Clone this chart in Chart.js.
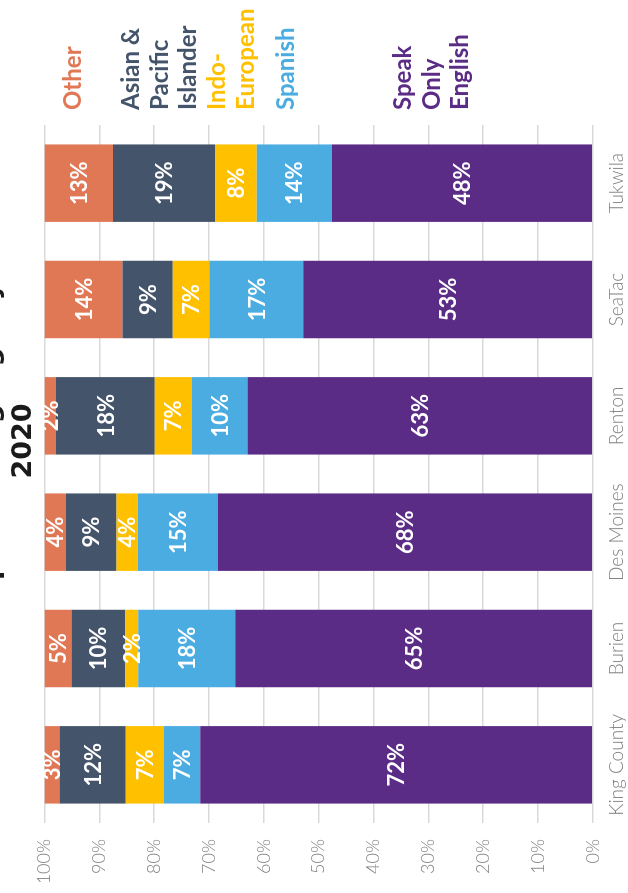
<!DOCTYPE html>
<html>
<head>
<meta charset="utf-8">
<script src="https://cdn.jsdelivr.net/npm/chart.js@4.4.1/dist/chart.umd.min.js"></script>
<style>
  html, body { margin: 0; padding: 0; background: #fff; overflow: hidden; }
  body { width: 628px; height: 893px; position: relative; }
  /* chart is drawn upright, then turned a quarter counter-clockwise */
  #wrap {
    position: absolute; left: 0; top: 0;
    width: 893px; height: 668px;
    transform-origin: 0 0;
    transform: translate(-40px, 893px) rotate(-90deg);
  }
</style>
</head>
<body>
<div id="wrap"><canvas id="chart" width="893" height="668"></canvas></div>
<script>
// --- data (percent of population) ---
const categories = ['King County', 'Burien', 'Des Moines', 'Renton', 'SeaTac', 'Tukwila'];
const englishOnly = [71.6, 65.2, 68.4, 63.0, 52.8, 47.6];
const spanish = [6.6, 17.7, 14.6, 10.1, 17.1, 13.7];
const indoEuropean = [7.0, 2.4, 3.9, 6.8, 6.7, 7.6];
const asianPacific = [12.1, 9.8, 9.2, 18.0, 9.2, 18.6];
const other = [2.7, 4.9, 3.9, 2.1, 14.2, 12.5];
const legendLines = [['Speak', 'Only', 'English'], ['Spanish'], ['Indo-', 'European'], ['Asian &', 'Pacific', 'Islander'], ['Other']];
const yTicks = [0, 10, 20, 30, 40, 50, 60, 70, 80, 90, 100];
const titleLines = ['Spoken Language by', '2020'];

const colors = ['#5B2C86', '#4AACE0', '#FFC000', '#44546A', '#E07856'];
const series = [englishOnly, spanish, indoEuropean, asianPacific, other];

// first-line baseline of each legend entry, canvas px
const legendBase = [451, 334, 265, 179, 120.5];
const legendX = 783;
const legendLineH = 28.5;

const barLabels = {
    id: 'barLabels',
    afterDatasetsDraw(chart) {
        const ctx = chart.ctx;
        ctx.save();
        ctx.fillStyle = '#fff';
        ctx.font = 'bold 22px Lato';
        ctx.textAlign = 'center';
        ctx.textBaseline = 'middle';
        chart.data.datasets.forEach((ds, i) => {
            chart.getDatasetMeta(i).data.forEach((bar, j) => {
                const v = ds.data[j];
                ctx.fillText(Math.round(v) + '%', bar.x, (bar.y + bar.base) / 2 + 1);
            });
        });
        ctx.restore();
    }
};

const sideLegend = {
    id: 'sideLegend',
    afterDraw(chart) {
        const ctx = chart.ctx;
        ctx.save();
        ctx.font = 'bold 24px Lato';
        ctx.textAlign = 'left';
        ctx.textBaseline = 'alphabetic';
        chart.data.datasets.forEach((ds, i) => {
            ctx.fillStyle = ds.backgroundColor;
            legendLines[i].forEach((line, k) => {
                ctx.fillText(line, legendX, legendBase[i] + k * legendLineH);
            });
        });
        ctx.restore();
    }
};

new Chart(document.getElementById('chart'), {
    type: 'bar',
    data: {
        labels: categories,
        datasets: series.map((d, i) => ({
            label: legendLines[i].join(' '),
            data: d,
            backgroundColor: colors[i],
            borderWidth: 0,
            barPercentage: 0.666,
            categoryPercentage: 1.0
        }))
    },
    options: {
        responsive: false,
        devicePixelRatio: 1,
        animation: false,
        layout: { padding: { left: 11, right: 0, top: 0, bottom: 0 } },
        plugins: {
            legend: { display: false },
            tooltip: { enabled: false },
            title: {
                display: true,
                text: titleLines,
                color: '#1a1a1a',
                font: { family: "'DejaVu Sans'", size: 27, weight: 'bold', lineHeight: 1.233 },
                padding: { top: 14, bottom: 4 }
            }
        },
        scales: {
            x: {
                stacked: true,
                grid: { display: false, drawTicks: false },
                border: { display: false },
                ticks: {
                    color: '#808080',
                    font: { family: 'Lato', size: 19, weight: '300' },
                    padding: 13,
                    maxRotation: 0
                },
                afterFit: s => { s.height = 35.3; }
            },
            y: {
                stacked: true,
                min: 0,
                max: 100,
                grid: { color: '#d9d9d9', lineWidth: 1.5, drawTicks: false },
                border: { display: false },
                afterBuildTicks: s => { s.ticks = yTicks.map(v => ({ value: v })); },
                ticks: {
                    color: '#808080',
                    font: { family: 'Lato', size: 18, weight: '300' },
                    padding: 16,
                    callback: v => v + '%'
                },
                afterFit: s => { s.width = 59; }
            },
            legendSpace: {
                type: 'linear',
                position: 'right',
                display: true,
                grid: { display: false, drawTicks: false },
                border: { display: false },
                ticks: { display: false },
                afterFit: s => { s.width = 125; }
            }
        }
    },
    plugins: [barLabels, sideLegend]
});
</script>
</body>
</html>
